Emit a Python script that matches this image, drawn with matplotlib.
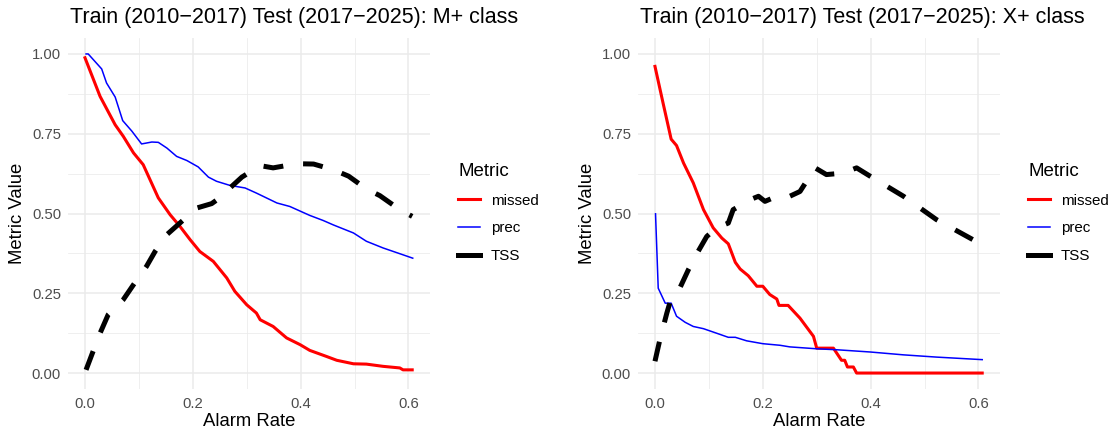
import numpy as np
import matplotlib
matplotlib.use("Agg")
import matplotlib.pyplot as plt

plt.rcParams['font.family'] = ['Liberation Sans', 'DejaVu Sans']

# ---- M+ class ----
m_missed_x = [0.0, 0.028, 0.056, 0.071, 0.09, 0.108, 0.136, 0.158, 0.176, 0.195, 0.213, 0.238,
              0.263, 0.278, 0.3, 0.318, 0.325, 0.349, 0.374, 0.399, 0.417, 0.448, 0.467, 0.498,
              0.522, 0.553, 0.584, 0.59, 0.607]
m_missed_y = [0.988, 0.867, 0.778, 0.742, 0.69, 0.653, 0.549, 0.496, 0.46, 0.418, 0.381, 0.35,
              0.298, 0.256, 0.214, 0.188, 0.167, 0.146, 0.11, 0.089, 0.071, 0.052, 0.04, 0.029,
              0.028, 0.021, 0.016, 0.01, 0.01]
m_prec_x = [0.002, 0.006, 0.031, 0.04, 0.056, 0.07, 0.087, 0.105, 0.124, 0.136, 0.152, 0.17,
            0.189, 0.21, 0.229, 0.244, 0.269, 0.297, 0.318, 0.356, 0.38, 0.417, 0.442, 0.461,
            0.498, 0.522, 0.553, 0.584, 0.608]
m_prec_y = [1.0, 1.0, 0.953, 0.909, 0.865, 0.791, 0.758, 0.718, 0.724, 0.723, 0.705, 0.679,
            0.666, 0.646, 0.614, 0.601, 0.588, 0.58, 0.564, 0.533, 0.522, 0.494, 0.478, 0.464,
            0.439, 0.413, 0.392, 0.374, 0.36]
m_tss_x = [0.002, 0.015, 0.028, 0.043, 0.071, 0.09, 0.114, 0.13, 0.152, 0.176, 0.207, 0.235,
           0.25, 0.269, 0.291, 0.325, 0.349, 0.393, 0.424, 0.461, 0.489, 0.522, 0.547, 0.584, 0.607]
m_tss_y = [0.01, 0.068, 0.125, 0.183, 0.23, 0.277, 0.334, 0.381, 0.434, 0.47, 0.517, 0.531,
           0.549, 0.58, 0.614, 0.65, 0.643, 0.656, 0.655, 0.637, 0.617, 0.577, 0.556, 0.512, 0.491]

# ---- X+ class ----
x_missed_x = [0.0, 0.015, 0.03, 0.04, 0.053, 0.071, 0.09, 0.108, 0.124, 0.136, 0.149, 0.158,
              0.173, 0.189, 0.2, 0.213, 0.226, 0.23, 0.247, 0.269, 0.294, 0.3, 0.331, 0.346,
              0.352, 0.357, 0.368, 0.374, 0.607]
x_missed_y = [0.961, 0.846, 0.733, 0.713, 0.658, 0.596, 0.512, 0.455, 0.423, 0.405, 0.347, 0.326,
              0.305, 0.272, 0.272, 0.246, 0.232, 0.212, 0.212, 0.172, 0.115, 0.078, 0.078, 0.04,
              0.04, 0.019, 0.019, 0.0, 0.0]
x_prec_x = [0.001, 0.006, 0.019, 0.03, 0.04, 0.056, 0.071, 0.09, 0.114, 0.136, 0.149, 0.17,
            0.2, 0.232, 0.25, 0.3, 0.337, 0.399, 0.461, 0.522, 0.607]
x_prec_y = [0.499, 0.266, 0.219, 0.219, 0.178, 0.159, 0.146, 0.139, 0.125, 0.112, 0.112, 0.101,
            0.092, 0.087, 0.082, 0.076, 0.073, 0.066, 0.057, 0.05, 0.042]
x_tss_x = [0.0, 0.009, 0.022, 0.031, 0.046, 0.062, 0.08, 0.096, 0.114, 0.136, 0.145, 0.179,
           0.192, 0.204, 0.226, 0.25, 0.269, 0.297, 0.318, 0.352, 0.365, 0.374, 0.399, 0.461,
           0.522, 0.607]
x_tss_y = [0.037, 0.104, 0.188, 0.24, 0.266, 0.324, 0.381, 0.428, 0.455, 0.47, 0.512, 0.545,
           0.554, 0.538, 0.554, 0.554, 0.569, 0.643, 0.622, 0.627, 0.637, 0.643, 0.617, 0.554,
           0.481, 0.402]

panels = [
    ("Train (2010\u22122017) Test (2017\u22122025): M+ class",
     (m_missed_x, m_missed_y), (m_prec_x, m_prec_y), (m_tss_x, m_tss_y)),
    ("Train (2010\u22122017) Test (2017\u22122025): X+ class",
     (x_missed_x, x_missed_y), (x_prec_x, x_prec_y), (x_tss_x, x_tss_y)),
]

W, H = 1115, 433
fig = plt.figure(figsize=(W / 100, H / 100), dpi=100)
fig.patch.set_facecolor('white')

grid_col = '#EBEBEB'
tick_col = '#4D4D4D'

for i, (title, missed, prec, tss) in enumerate(panels):
    off = i * 570
    ax = fig.add_axes([(68 + off) / W, (H - 389) / H, 362 / W, 351 / H])
    for s in ax.spines.values():
        s.set_visible(False)

    ax.set_xlim(-0.0315, 0.640)
    ax.set_ylim(-0.05, 1.05)

    # ggplot-ish grid: major + minor
    for v in [0.1, 0.3, 0.5]:
        ax.axvline(v, color=grid_col, lw=0.55, zorder=0)
    for v in [0.125, 0.375, 0.625, 0.875]:
        ax.axhline(v, color=grid_col, lw=0.55, zorder=0)
    for v in [0.0, 0.2, 0.4, 0.6]:
        ax.axvline(v, color=grid_col, lw=1.1, zorder=0)
    for v in [0.0, 0.25, 0.5, 0.75, 1.0]:
        ax.axhline(v, color=grid_col, lw=1.1, zorder=0)

    ax.plot(missed[0], missed[1], color='red', lw=2.2, label='missed',
            solid_joinstyle='round')
    ax.plot(prec[0], prec[1], color='blue', lw=1.1, label='prec')
    ax.plot(tss[0], tss[1], color='black', lw=3.6, dashes=(4, 4),
            dash_capstyle='butt', label='TSS')

    ax.set_xticks([0.0, 0.2, 0.4, 0.6])
    ax.set_xticklabels(['0.0', '0.2', '0.4', '0.6'])
    ax.set_yticks([0.0, 0.25, 0.5, 0.75, 1.0])
    ax.set_yticklabels(['0.00', '0.25', '0.50', '0.75', '1.00'])
    ax.tick_params(axis='y', length=0, labelsize=10.7, labelcolor=tick_col, pad=5)
    ax.tick_params(axis='x', length=0, labelsize=10.7, labelcolor=tick_col, pad=6)

    ax.set_xlabel('Alarm Rate', fontsize=13.3, labelpad=1)
    ax.set_ylabel('Metric Value', fontsize=13.3, labelpad=4)

    fig.text((70 + off) / W, 1 - 18 / H, title, fontsize=15.5, ha='left', va='center')

    handles = [
        plt.Line2D([], [], color='red', lw=2.2),
        plt.Line2D([], [], color='blue', lw=1.1),
        plt.Line2D([], [], color='black', lw=3.6),
    ]
    leg = fig.legend(handles, ['missed', 'prec', 'TSS'], title='Metric',
                     loc='upper left', bbox_to_anchor=((458 + off) / W, 1 - 163 / H),
                     frameon=False, fontsize=10.9, title_fontsize=13.5,
                     handlelength=1.45, handletextpad=0.73, labelspacing=0.9,
                     borderaxespad=0, borderpad=0)
    leg._legend_box.align = 'left'

fig.savefig('out.png', dpi=100)
